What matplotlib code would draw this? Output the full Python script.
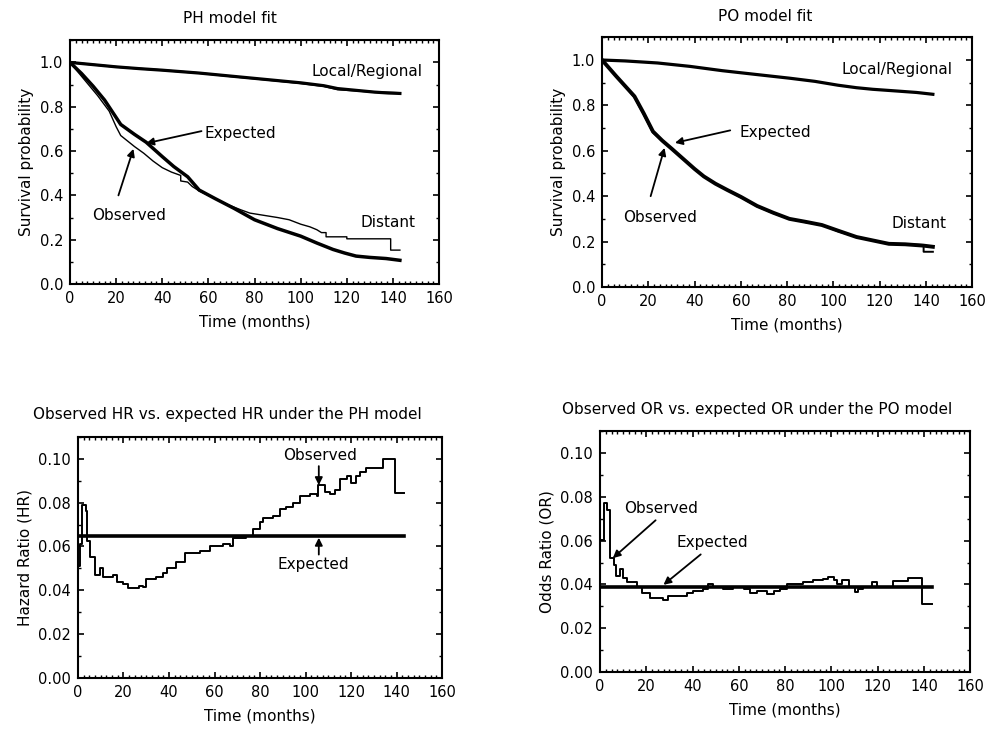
import matplotlib.pyplot as plt
from matplotlib.ticker import MultipleLocator

plt.rcParams['font.family'] = 'DejaVu Sans'

# --- survival curves, PH fit (months, probability) ---
ph_local_obs_t = [0, 10, 20, 30, 40, 56, 70, 85, 100, 110, 116, 125, 132, 138, 143]
ph_local_obs_s = [1.0, 0.99, 0.98, 0.972, 0.965, 0.952, 0.937, 0.922, 0.906, 0.893, 0.878, 0.872, 0.866, 0.864, 0.862]
ph_local_exp_t = [0, 10, 20, 30, 40, 56, 70, 85, 100, 110, 116, 125, 132, 138, 143]
ph_local_exp_s = [1.0, 0.99, 0.98, 0.972, 0.965, 0.952, 0.938, 0.923, 0.908, 0.895, 0.882, 0.873, 0.866, 0.862, 0.86]

ph_dist_obs_t = [0, 4, 8, 12, 17, 20, 22, 25, 28, 32, 36, 40, 44, 48, 48, 51, 53, 56, 62, 68, 74, 78,
                 84, 90, 95, 100, 104, 107, 109, 111, 111, 120, 120, 139, 139, 143]
ph_dist_obs_s = [1.0, 0.95, 0.9, 0.85, 0.78, 0.71, 0.67, 0.645, 0.62, 0.59, 0.555, 0.525, 0.505, 0.49, 0.465,
                 0.46, 0.44, 0.42, 0.39, 0.36, 0.335, 0.32, 0.31, 0.3, 0.29, 0.27, 0.258, 0.245, 0.232,
                 0.232, 0.213, 0.213, 0.204, 0.204, 0.153, 0.153]
ph_dist_exp_t = [0, 5, 10, 15, 22, 28, 33, 40, 45, 51, 56, 63, 71, 80, 90, 100, 107, 114, 119, 124, 130, 137, 143]
ph_dist_exp_s = [1.0, 0.95, 0.893, 0.83, 0.72, 0.675, 0.64, 0.575, 0.53, 0.484, 0.424, 0.385, 0.342, 0.29,
                 0.25, 0.216, 0.185, 0.156, 0.14, 0.126, 0.12, 0.115, 0.107]

# --- survival curves, PO fit ---
po_local_t = [0, 10, 24, 38, 52, 66, 81, 92, 102, 110, 117, 128, 136, 143]
po_local_s = [1.0, 0.996, 0.987, 0.972, 0.953, 0.937, 0.92, 0.906, 0.889, 0.878, 0.871, 0.863, 0.857, 0.849]

po_dist_obs_t = [0, 3, 6, 10, 14, 18, 22, 26, 30, 35, 40, 44, 49, 54, 60, 67, 74, 81, 88, 95, 102,
                 110, 117, 124, 131, 139, 139, 143]
po_dist_obs_s = [1.0, 0.965, 0.93, 0.885, 0.835, 0.76, 0.68, 0.645, 0.61, 0.565, 0.52, 0.487, 0.455, 0.428,
                 0.395, 0.355, 0.325, 0.3, 0.285, 0.273, 0.245, 0.22, 0.205, 0.19, 0.188, 0.185, 0.155, 0.155]
po_dist_exp_t = [0, 3, 6, 10, 14, 18, 22, 26, 30, 35, 40, 44, 49, 54, 60, 67, 74, 81, 88, 95, 102,
                 110, 117, 124, 131, 139, 143]
po_dist_exp_s = [1.0, 0.965, 0.93, 0.885, 0.84, 0.765, 0.685, 0.645, 0.61, 0.565, 0.52, 0.487, 0.455, 0.428,
                 0.397, 0.357, 0.327, 0.3, 0.287, 0.273, 0.248, 0.22, 0.205, 0.19, 0.188, 0.182, 0.177]

# --- hazard ratio over time ---
hr_t = [0, 0.7, 1.9, 3.4, 4.0, 5.4, 7.3, 9.5, 11, 15.4, 17, 20, 22, 27, 28.6, 30, 34.4, 37.4, 39, 43,
        47, 53.5, 58, 63.7, 66.7, 68, 72.5, 74, 77, 80, 81.3, 85.7, 88.6, 91.6, 94.5, 97.4, 101.8,
        104.8, 105.5, 108.4, 110.6, 112.8, 115, 118, 120, 122.3, 123.8, 126.7, 134, 139.2, 143.3]
hr_obs = [0.051, 0.061, 0.079, 0.076, 0.0624, 0.055, 0.047, 0.05, 0.046, 0.047, 0.044, 0.043, 0.041,
          0.042, 0.0415, 0.045, 0.046, 0.048, 0.05, 0.053, 0.057, 0.058, 0.06, 0.061, 0.06, 0.064,
          0.064, 0.065, 0.068, 0.071, 0.073, 0.074, 0.077, 0.078, 0.08, 0.083, 0.084, 0.083, 0.088,
          0.085, 0.084, 0.086, 0.091, 0.092, 0.089, 0.092, 0.094, 0.096, 0.1, 0.0845, 0.0845]
hr_expected = 0.065

# --- odds ratio over time ---
or_t = [0, 1.9, 2.9, 4.3, 5.8, 6.9, 8.6, 10, 11.5, 15.9, 18, 21.6, 27.4, 29.5, 34.6, 37.5, 40.3,
        44.7, 46.8, 49, 53.3, 57.6, 62, 64.8, 67.7, 72, 75, 77.8, 80.7, 85, 87.9, 92.2, 96.5, 98.7,
        100.9, 102.3, 104.5, 107.4, 110.2, 111.7, 113.8, 117.4, 119.6, 124, 126.8, 133.3, 139, 143.4]
or_obs = [0.0605, 0.077, 0.074, 0.052, 0.049, 0.044, 0.047, 0.043, 0.041, 0.039, 0.036, 0.034, 0.033,
          0.0345, 0.0345, 0.036, 0.037, 0.038, 0.04, 0.039, 0.038, 0.039, 0.038, 0.036, 0.037, 0.0355,
          0.037, 0.038, 0.04, 0.04, 0.041, 0.042, 0.0425, 0.0435, 0.042, 0.04, 0.042, 0.039, 0.0365,
          0.038, 0.039, 0.041, 0.039, 0.039, 0.0415, 0.043, 0.031, 0.031]
or_expected = 0.039

x_ticks = [0, 20, 40, 60, 80, 100, 120, 140, 160]
TXT = 11
TICK = 10.5

fig = plt.figure(figsize=(9.87, 7.32), dpi=100)
ax_ph = fig.add_axes([0.0709, 0.612, 0.374, 0.333])
ax_po = fig.add_axes([0.610, 0.608, 0.375, 0.341])
ax_hr = fig.add_axes([0.079, 0.074, 0.369, 0.329])
ax_or = fig.add_axes([0.608, 0.082, 0.375, 0.329])


def style(ax, ylim, ymajor, yminor, yfmt):
    ax.set_xlim(0, 160)
    ax.set_ylim(*ylim)
    ax.set_xticks(x_ticks)
    ax.xaxis.set_minor_locator(MultipleLocator(2.5))
    ax.yaxis.set_major_locator(MultipleLocator(ymajor))
    ax.yaxis.set_minor_locator(MultipleLocator(yminor))
    ax.yaxis.set_major_formatter(plt.FormatStrFormatter(yfmt))
    ax.tick_params(which='both', direction='in', top=True, right=True, labelsize=TICK, pad=5)
    ax.tick_params(which='major', length=4, width=1.2)
    ax.tick_params(which='minor', length=2, width=1)
    for sp in ax.spines.values():
        sp.set_linewidth(1.5)


def arrow(ax, xy, xytext):
    ax.annotate('', xy=xy, xytext=xytext,
                arrowprops=dict(arrowstyle='-|>', color='black', lw=1.3, mutation_scale=11,
                                shrinkA=0, shrinkB=0))


# PH model fit
ax = ax_ph
ax.plot(ph_local_obs_t, ph_local_obs_s, color='black', lw=1.4)
ax.plot(ph_local_exp_t, ph_local_exp_s, color='black', lw=2.3)
ax.plot(ph_dist_obs_t, ph_dist_obs_s, color='black', lw=1.0)
ax.plot(ph_dist_exp_t, ph_dist_exp_s, color='black', lw=2.5)
style(ax, (0, 1.1), 0.2, 0.1, '%.1f')
ax.set_ylabel('Survival probability', fontsize=TXT)
ax.set_xlabel('Time (months)', fontsize=TXT, labelpad=6)
ax.text(0.434, 1.09, 'PH model fit', transform=ax.transAxes, ha='center', va='center', fontsize=TXT)
ax.text(128.6, 0.96, 'Local/Regional', ha='center', va='center', fontsize=TXT)
ax.text(58.5, 0.68, 'Expected', ha='left', va='center', fontsize=TXT)
arrow(ax, (33, 0.635), (57, 0.69))
ax.text(25.6, 0.308, 'Observed', ha='center', va='center', fontsize=TXT)
arrow(ax, (27.5, 0.61), (21, 0.40))
ax.text(138, 0.278, 'Distant', ha='center', va='center', fontsize=TXT)

# PO model fit
ax = ax_po
ax.plot(po_local_t, po_local_s, color='black', lw=2.3)
ax.plot(po_dist_obs_t, po_dist_obs_s, color='black', lw=1.4)
ax.plot(po_dist_exp_t, po_dist_exp_s, color='black', lw=2.8)
style(ax, (0, 1.1), 0.2, 0.1, '%.1f')
ax.set_ylabel('Survival probability', fontsize=TXT)
ax.set_xlabel('Time (months)', fontsize=TXT, labelpad=6)
ax.text(0.44, 1.085, 'PO model fit', transform=ax.transAxes, ha='center', va='center', fontsize=TXT)
ax.text(127.5, 0.957, 'Local/Regional', ha='center', va='center', fontsize=TXT)
ax.text(59.2, 0.68, 'Expected', ha='left', va='center', fontsize=TXT)
arrow(ax, (31.5, 0.635), (55.4, 0.69))
ax.text(25, 0.307, 'Observed', ha='center', va='center', fontsize=TXT)
arrow(ax, (27, 0.613), (21, 0.40))
ax.text(137, 0.278, 'Distant', ha='center', va='center', fontsize=TXT)

# hazard ratio, PH model
ax = ax_hr
ax.plot([0] + hr_t, [0] + hr_obs, color='black', lw=1.4, drawstyle='steps-post')
ax.plot([0, 143.3], [hr_expected, hr_expected], color='black', lw=2.6)
style(ax, (0, 0.11), 0.02, 0.01, '%.2f')
ax.set_ylabel('Hazard Ratio (HR)', fontsize=TXT)
ax.set_xlabel('Time (months)', fontsize=TXT, labelpad=6)
ax.text(0.41, 1.095, 'Observed HR vs. expected HR under the PH model', transform=ax.transAxes,
        ha='center', va='center', fontsize=TXT)
ax.text(106.5, 0.1017, 'Observed', ha='center', va='center', fontsize=TXT)
arrow(ax, (105.8, 0.088), (105.8, 0.0967))
ax.text(103.3, 0.0518, 'Expected', ha='center', va='center', fontsize=TXT)
arrow(ax, (105.8, 0.064), (105.8, 0.0563))

# odds ratio, PO model
ax = ax_or
ax.plot(or_t, or_obs, color='black', lw=1.4, drawstyle='steps-post')
ax.plot([0, 143.4], [or_expected, or_expected], color='black', lw=2.6)
style(ax, (0, 0.11), 0.02, 0.01, '%.2f')
ax.set_ylabel('Odds Ratio (OR)', fontsize=TXT)
ax.set_xlabel('Time (months)', fontsize=TXT, labelpad=6)
ax.text(0.424, 1.09, 'Observed OR vs. expected OR under the PO model', transform=ax.transAxes,
        ha='center', va='center', fontsize=TXT)
ax.text(26.4, 0.0747, 'Observed', ha='center', va='center', fontsize=TXT)
arrow(ax, (5.5, 0.052), (24, 0.0693))
ax.text(48.7, 0.059, 'Expected', ha='center', va='center', fontsize=TXT)
arrow(ax, (27.4, 0.0398), (43.5, 0.0537))

fig.savefig('out.png', dpi=100)
